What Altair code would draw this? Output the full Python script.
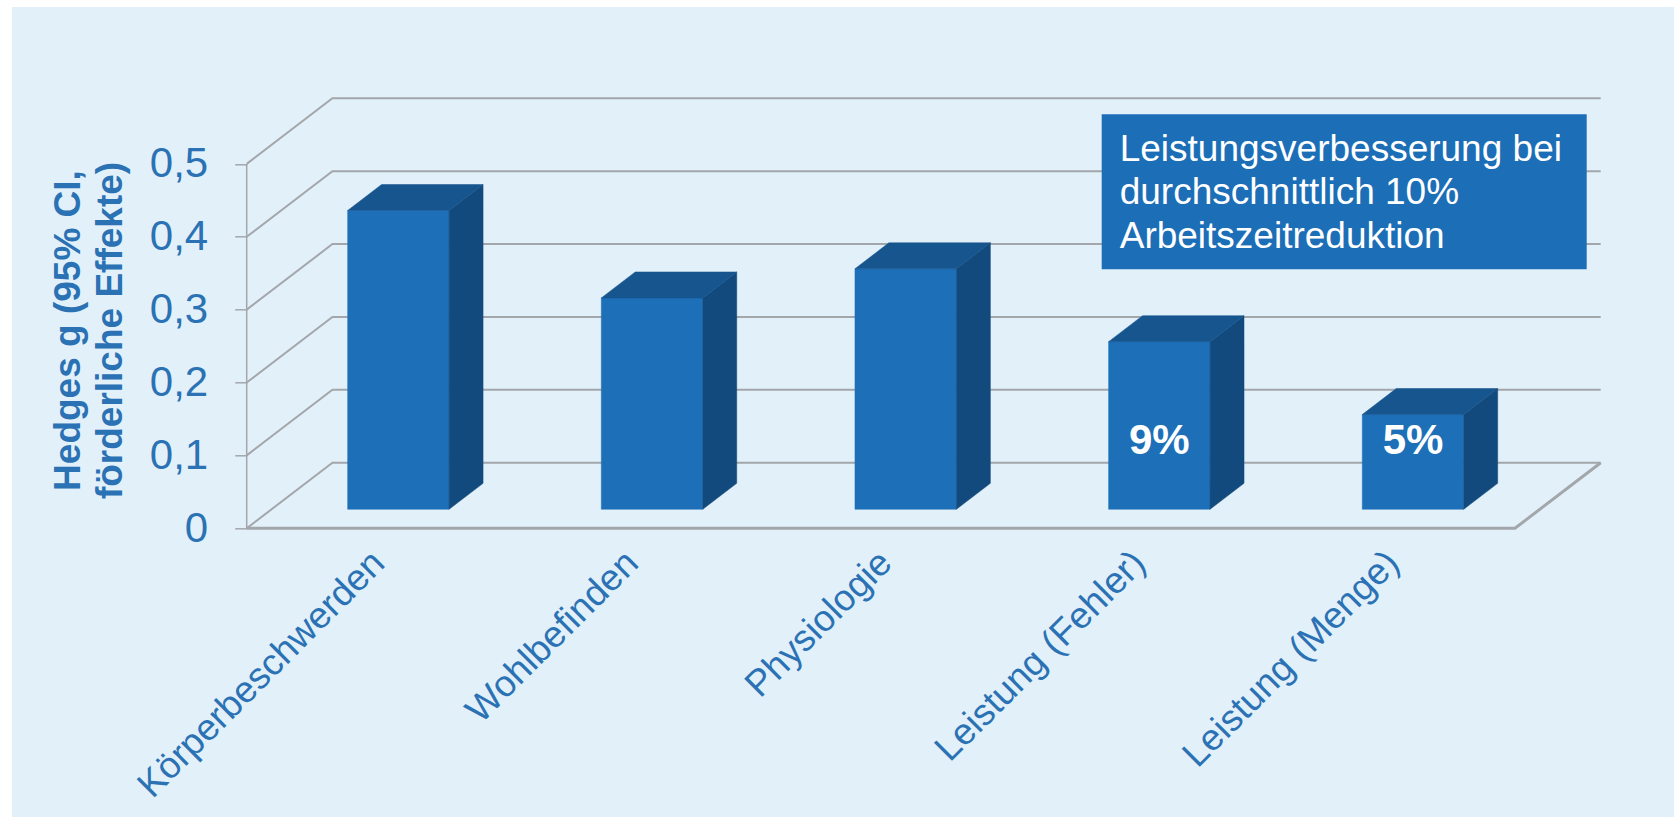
import json
import altair as alt
import pandas as pd

# ---------------- data ----------------
categories = ["Körperbeschwerden", "Wohlbefinden", "Physiologie",
              "Leistung (Fehler)", "Leistung (Menge)"]
values = [0.41, 0.29, 0.33, 0.23, 0.13]
bar_labels = ["", "", "", "9%", "5%"]
y_ticks = [0.0, 0.1, 0.2, 0.3, 0.4, 0.5]
box_lines = ["Leistungsverbesserung bei", "durchschnittlich 10%", "Arbeitszeitreduktion"]
y_title = ["Hedges g (95% CI,", "förderliche Effekte)"]

# ---------------- pseudo-3D geometry (style) ----------------
DX = 0.338      # depth offset of back wall, in category units
DY = 0.09       # depth offset of back wall, in value units
BAR_W = 0.40    # bar width, category units
F_FRONT = 0.29  # depth fraction of bar front face
F_BACK = 0.686  # depth fraction of bar back face
N = len(categories)

FONT = "Liberation Sans"
BG = "#E2F0FA"
FRONT = "#1D6FB8"
SIDE = "#134A7D"
TOP = "#17558F"
GRID = "#A3A7AB"
TXT = "#2B72B4"

front_rows, side_rows, top_rows, lab_rows = [], [], [], []
for i, (c, v) in enumerate(zip(categories, values)):
    x0 = i + 0.5 - BAR_W / 2 + F_FRONT * DX
    x1 = x0 + BAR_W
    y0 = F_FRONT * DY
    front_rows.append(dict(cat=c, x=x0, x2=x1, y=y0, y2=y0 + v))
    for f in (0.0, F_BACK - F_FRONT):
        side_rows.append(dict(cat=c, xs=x1 + f * DX, ytop=y0 + v + f * DY, ybot=y0 + f * DY))
        top_rows.append(dict(cat=c, yt=y0 + v + f * DY, xl=x0 + f * DX, xr=x1 + f * DX))
    lab_rows.append(dict(cat=c, xc=i + 0.5 + F_FRONT * DX, label=bar_labels[i]))

front_df = pd.DataFrame(front_rows)
side_df = pd.DataFrame(side_rows)
top_df = pd.DataFrame(top_rows)
lab_df = pd.DataFrame([r for r in lab_rows if r["label"]])

grid_rows = []
for t in y_ticks:
    grid_rows += [dict(g=t, pt=0, gx=0.0, gy=t),
                  dict(g=t, pt=1, gx=DX, gy=t + DY),
                  dict(g=t, pt=2, gx=N + DX, gy=t + DY)]
grid_df = pd.DataFrame(grid_rows)
floor_df = pd.DataFrame([dict(pt=0, gx=0.0, gy=0.0), dict(pt=1, gx=float(N), gy=0.0),
                         dict(pt=2, gx=N + DX, gy=DY)])
axisline_df = pd.DataFrame([dict(pt=0, gx=0.0, gy=0.0), dict(pt=1, gx=0.0, gy=max(y_ticks))])

xscale = alt.Scale(domain=[0, N + DX], nice=False, zero=False)
yscale = alt.Scale(domain=[0, max(y_ticks) + DY], nice=False, zero=False)

cat_expr = json.dumps(categories, ensure_ascii=False) + "[floor(datum.value)]"

x_axis = alt.Axis(values=[i + 0.5 for i in range(N)], labelExpr=cat_expr,
                  labelAngle=315, labelAlign="right", labelBaseline="top",
                  labelPadding=16, labelOffset=-8, ticks=False, tickSize=0, domain=False,
                  grid=False, labelFont=FONT, labelFontSize=37, labelColor=TXT, title=None,
                  labelLimit=0, labelOverlap=False, labelBound=False, labelFlush=False,
                  zindex=1)
y_axis = alt.Axis(values=y_ticks,
                  labelExpr="datum.value == 0 ? '0' : replace(format(datum.value, '.1f'), '.', ',')",
                  domain=False, grid=False, tickSize=12, tickColor=GRID, tickWidth=1.5,
                  labelPadding=27, labelFont=FONT, labelFontSize=42, labelColor=TXT,
                  labelLimit=0, labelOverlap=False, labelFlush=False, labelBound=False,
                  title=y_title, titleFont=FONT, titleFontSize=37, titleFontWeight="bold",
                  titleColor=TXT, titleAngle=270, titleAlign="center",
                  titleBaseline="alphabetic", titleLineHeight=42.7, titleLimit=0,
                  titleX=-167.7, titleY=231.7, zindex=1)


def X(field):
    return alt.X(field, scale=xscale, axis=x_axis)


def Y(field):
    return alt.Y(field, scale=yscale, axis=y_axis)


one = pd.DataFrame([{"k": 0}])

background = alt.Chart(one).mark_rect(color=BG).encode(
    x=alt.value(-234.7), x2=alt.value(1427.3), y=alt.value(-91.3), y2=alt.value(718.7))

grid = alt.Chart(grid_df).mark_line(color=GRID, strokeWidth=2).encode(
    x=X("gx:Q"), y=Y("gy:Q"), detail="g:N", order="pt:Q")

floor = alt.Chart(floor_df).mark_line(color=GRID, strokeWidth=3).encode(
    x=X("gx:Q"), y=Y("gy:Q"), order="pt:Q")

axisline = alt.Chart(axisline_df).mark_line(color=GRID, strokeWidth=1.5).encode(
    x=X("gx:Q"), y=Y("gy:Q"), order="pt:Q")

front = alt.Chart(front_df).mark_rect(color=FRONT, stroke=FRONT, strokeWidth=0.5).encode(
    x=X("x:Q"), x2="x2:Q", y=Y("y:Q"), y2="y2:Q")

side = alt.Chart(side_df).mark_area(color=SIDE, orient="vertical", stroke=SIDE,
                                    strokeWidth=0.5).encode(
    x=X("xs:Q"), y=Y("ytop:Q"), y2="ybot:Q", detail="cat:N")

top = alt.Chart(top_df).mark_area(color=TOP, orient="horizontal", stroke=TOP,
                                  strokeWidth=0.5).encode(
    y=Y("yt:Q"), x=X("xl:Q"), x2="xr:Q", detail="cat:N")

pct = alt.Chart(lab_df).mark_text(font=FONT, fontSize=42, fontWeight="bold", color="white",
                                  align="center", baseline="middle").encode(
    x=X("xc:Q"), y=alt.value(342.2), text="label:N")

box = alt.Chart(one).mark_rect(color="#1C6EB7").encode(
    x=alt.value(855), x2=alt.value(1340), y=alt.value(16), y2=alt.value(171))

box_text = alt.Chart(pd.DataFrame([{"t": "\n".join(box_lines)}])).mark_text(
    font=FONT, fontSize=37, color="white", align="left", baseline="alphabetic",
    lineBreak="\n", lineHeight=43.3).encode(
    x=alt.value(873), y=alt.value(62.7), text="t:N")

chart = alt.layer(background, grid, floor, axisline, front, side, top, pct, box, box_text).properties(
    width=1354, height=430,
    autosize=alt.AutoSizeParams(type="none"),
    padding={"left": 246.7, "top": 98.3, "right": 73.3, "bottom": 288.7},
    background="white",
).configure_view(stroke=None)

chart.save("out.html", embed_options={"renderer": "svg", "actions": False})
